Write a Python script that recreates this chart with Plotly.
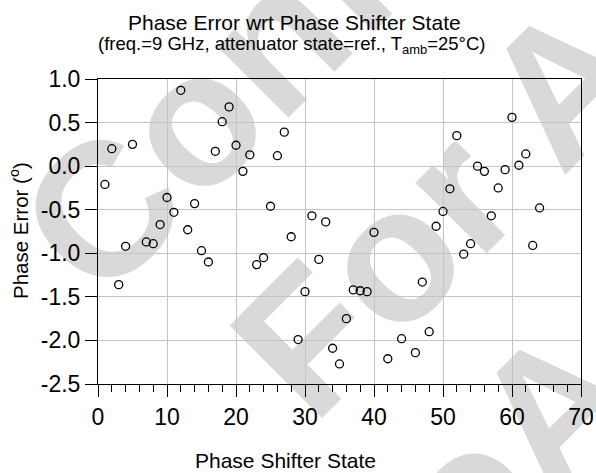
import base64
import plotly.graph_objects as go

# ---- data ----
states = [1, 2, 3, 4, 5, 7, 8, 9, 10, 11, 12, 13, 14, 15, 16, 17, 18, 19, 20,
          21, 22, 23, 24, 25, 26, 27, 28, 29, 30, 31, 32, 33, 34, 35, 36, 37,
          38, 39, 40, 42, 44, 46, 47, 48, 49, 50, 51, 52, 53, 54, 55, 56, 57,
          58, 59, 60, 61, 62, 63, 64]
phase_error = [-0.21, 0.20, -1.36, -0.92, 0.25, -0.87, -0.89, -0.67, -0.36,
               -0.53, 0.87, -0.73, -0.43, -0.97, -1.10, 0.17, 0.51, 0.68, 0.24,
               -0.06, 0.13, -1.13, -1.05, -0.46, 0.12, 0.39, -0.81, -1.99,
               -1.44, -0.57, -1.07, -0.64, -2.09, -2.27, -1.75, -1.42, -1.43,
               -1.44, -0.76, -2.21, -1.98, -2.14, -1.33, -1.90, -0.69, -0.52,
               -0.26, 0.35, -1.01, -0.89, 0.00, -0.06, -0.57, -0.25, -0.04,
               0.56, 0.01, 0.14, -0.91, -0.48]
y_tickvals = [1.0, 0.5, 0.0, -0.5, -1.0, -1.5, -2.0, -2.5]
y_ticktext = ["1.0", "0.5", "0.0", "-0.5", "-1.0", "-1.5", "-2.0", "-2.5"]
x_tickvals = [0, 10, 20, 30, 40, 50, 60, 70]
x_ticktext = ["0", "10", "20", "30", "40", "50", "60", "70"]

title_text = "Phase Error wrt Phase Shifter State"
subtitle_text = "(freq.=9 GHz, attenuator state=ref., T<sub>amb</sub>=25°C)"
x_title = "Phase Shifter State"
y_title = "Phase Error (<sup>o</sup>)"

W, H = 596, 473
ML, MR, MT, MB = 98, 15, 79, 89
PW, PH = W - ML - MR, H - MT - MB
FONT = "Liberation Sans, Arial, sans-serif"


def px_x(px):
    return (px - ML) / PW


def px_y(py):
    return (H - MB - py) / PH


# faint watermark placed beneath the plot
svg = (
    '<svg xmlns="http://www.w3.org/2000/svg" width="596" height="473" '
    'viewBox="0 0 596 473">'
    '<g font-family="Liberation Sans, Arial, sans-serif" font-size="190" '
    'font-weight="bold" fill="#d9d9d9">'
    '<text transform="translate(100,306) rotate(-45)">Confidential</text>'
    '<text transform="translate(313,427) rotate(-45)">For A</text>'
    '<text transform="translate(470,584) rotate(-45)">oA</text>'
    '</g></svg>'
)
svg_uri = "data:image/svg+xml;base64," + base64.b64encode(svg.encode()).decode()

fig = go.Figure()
fig.add_trace(go.Scatter(
    x=states, y=phase_error, mode="markers",
    marker=dict(symbol="circle-open", size=8, color="black",
                line=dict(width=1.3, color="black")),
    showlegend=False, hoverinfo="x+y",
))

fig.update_layout(
    width=W, height=H,
    margin=dict(l=ML, r=MR, t=MT, b=MB, autoexpand=False),
    paper_bgcolor="white", plot_bgcolor="white",
    font=dict(family=FONT, color="black"),
    images=[dict(source=svg_uri, xref="paper", yref="paper",
                 x=-ML / PW, y=1 + MT / PH, sizex=W / PW, sizey=H / PH,
                 xanchor="left", yanchor="top", sizing="stretch",
                 layer="below")],
    xaxis=dict(
        range=[0, 70], tickvals=x_tickvals, ticktext=x_ticktext,
        ticks="outside", ticklen=12, tickwidth=1, tickcolor="black",
        minor=dict(dtick=2, ticks="outside", ticklen=7, tickwidth=1,
                   tickcolor="black", showgrid=False),
        showgrid=True, gridcolor="#c4c4c4", gridwidth=1,
        showline=True, linecolor="black", linewidth=1, mirror=True,
        zeroline=False, automargin=False,
        tickfont=dict(size=23, family=FONT),
    ),
    yaxis=dict(
        range=[-2.5, 1.0], tickvals=y_tickvals, ticktext=y_ticktext,
        ticks="outside", ticklen=12, tickwidth=1, tickcolor="black",
        showgrid=True, gridcolor="#c4c4c4", gridwidth=1,
        showline=True, linecolor="black", linewidth=1, mirror=True,
        zeroline=False, automargin=False,
        tickfont=dict(size=23, family=FONT),
    ),
    annotations=[
        dict(text=title_text, x=px_x(294), y=px_y(22), xref="paper",
             yref="paper", showarrow=False, xanchor="center",
             yanchor="middle", font=dict(size=21, family=FONT)),
        dict(text=subtitle_text, x=px_x(292), y=px_y(45), xref="paper",
             yref="paper", showarrow=False, xanchor="center",
             yanchor="middle", font=dict(size=18.5, family=FONT)),
        dict(text=x_title, x=px_x(285), y=px_y(460), xref="paper",
             yref="paper", showarrow=False, xanchor="center",
             yanchor="middle", font=dict(size=21, family=FONT)),
        dict(text=y_title, x=px_x(19), y=px_y(231), xref="paper",
             yref="paper", showarrow=False, xanchor="center",
             yanchor="middle", textangle=-90,
             font=dict(size=20.5, family=FONT)),
    ],
)

fig.write_html("out.html")
